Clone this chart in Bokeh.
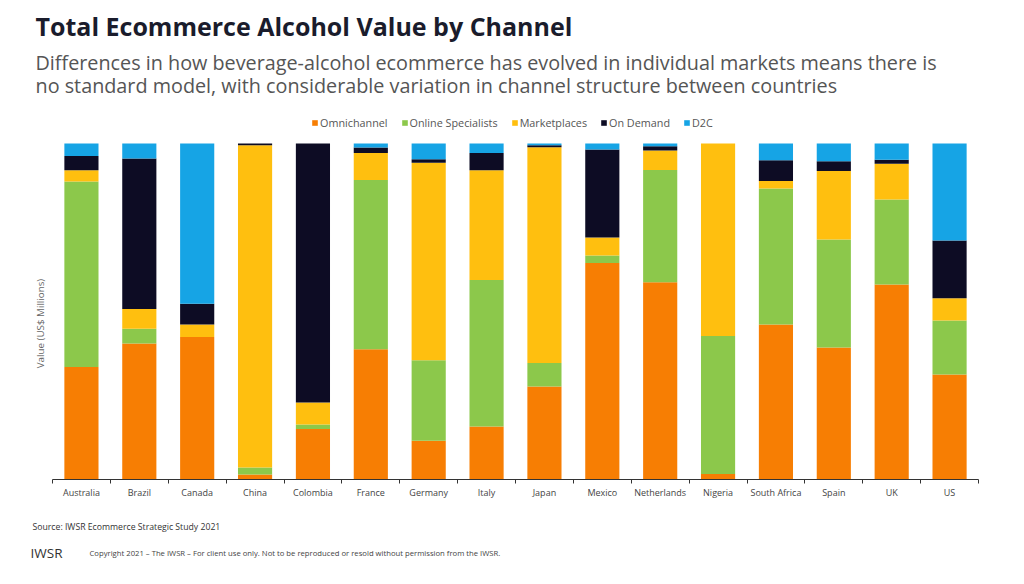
from bokeh.plotting import figure
from bokeh.layouts import column
from bokeh.models import Range1d, FixedTicker, Label, Legend, LegendItem
from bokeh.embed import file_html
from bokeh.resources import INLINE

countries = ["Australia", "Brazil", "Canada", "China", "Colombia", "France", "Germany", "Italy",
             "Japan", "Mexico", "Netherlands", "Nigeria", "South Africa", "Spain", "UK", "US"]
series = ["Omnichannel", "Online Specialists", "Marketplaces", "On Demand", "D2C"]
colors = ["#F77E03", "#8CC84B", "#FFBF0F", "#0D0C24", "#16A4E5"]

# channel shares (% of total ecommerce alcohol value)
omnichannel = [33.5, 40.5, 42.4, 1.5, 15.0, 38.8, 11.5, 15.8, 27.7, 64.5, 58.7, 1.6, 46.2, 39.3, 58.0, 31.3]
online_specialists = [55.3, 4.4, 0.0, 2.1, 1.4, 50.3, 24.0, 43.6, 7.0, 2.2, 33.4, 41.1, 40.5, 32.1, 25.3, 16.1]
marketplaces = [3.3, 5.9, 3.7, 95.9, 6.5, 8.1, 58.8, 32.7, 64.2, 5.4, 5.8, 57.3, 2.2, 20.4, 10.7, 6.6]
on_demand = [4.3, 44.8, 6.2, 0.5, 77.1, 1.6, 1.0, 5.2, 0.6, 26.2, 1.3, 0.0, 6.2, 2.9, 1.2, 17.2]
d2c = [3.7, 4.5, 47.7, 0.0, 0.0, 1.2, 4.7, 2.8, 0.5, 1.8, 0.8, 0.0, 5.0, 5.3, 4.8, 28.9]

raw = [omnichannel, online_specialists, marketplaces, on_demand, d2c]
totals = [sum(col) for col in zip(*raw)]
data = {"x": [i + 0.5 for i in range(len(countries))]}
for name, vals in zip(series, raw):
    data[name] = [v / t * 100 for v, t in zip(vals, totals)]

FONT = "Open Sans"
W = 1008
N = len(countries)

# screen geometry of the bar area
AX_L, AX_R = 52, 978          # x axis extent (px)
BAR_TOP, BAR_BOT = 143, 479   # 100 % and 0 % (px)
HEAD_H = 110
MAIN_H = 393
FOOT_H = 568 - HEAD_H - MAIN_H
PX_X = (AX_R - AX_L) / N
PX_Y = (BAR_BOT - BAR_TOP) / 100.0


def text_panel(height):
    f = figure(width=W, height=height, output_backend="svg", toolbar_location=None,
               x_range=Range1d(0, W), y_range=Range1d(height, 0), min_border=0)
    f.axis.visible = False
    f.grid.visible = False
    f.outline_line_color = None
    return f


# ---- header: title and subtitle
head = text_panel(HEAD_H)
head.add_layout(Label(x=35, y=25, text="Total Ecommerce Alcohol Value by Channel",
                      text_font=FONT, text_font_size="25px", text_font_style="bold",
                      text_color="#1A1C2C", text_baseline="middle"))
head.add_layout(Label(x=35, y=62,
                      text="Differences in how beverage-alcohol ecommerce has evolved in individual markets means there is",
                      text_font=FONT, text_font_size="19.8px", text_color="#555555", text_baseline="middle"))
head.add_layout(Label(x=35, y=85,
                      text="no standard model, with considerable variation in channel structure between countries",
                      text_font=FONT, text_font_size="19.8px", text_color="#555555", text_baseline="middle"))

# ---- main chart (frame spans the whole width; legend lives at the top of the frame)
y_top = (BAR_BOT - HEAD_H) / PX_Y
p = figure(width=W, height=MAIN_H, output_backend="svg", toolbar_location=None,
           x_range=Range1d(-AX_L / PX_X, N + (W - AX_R) / PX_X), y_range=Range1d(0, y_top),
           min_border_left=0, min_border_right=0, min_border_top=0,
           min_border_bottom=MAIN_H - (BAR_BOT - HEAD_H))
p.outline_line_color = None
p.xgrid.visible = False
p.ygrid.visible = False
p.yaxis.visible = False

rs = p.vbar_stack(series, x="x", width=0.59, source=data, color=colors, line_color=None)

ax = p.xaxis[0]
ax.bounds = (0, N)
ax.ticker = FixedTicker(ticks=data["x"], minor_ticks=list(range(0, N + 1)))
ax.major_label_overrides = {x: c for x, c in zip(data["x"], countries)}
ax.major_tick_out = 0
ax.major_tick_in = 0
ax.minor_tick_out = 4
ax.minor_tick_in = 0
ax.minor_tick_line_color = "#333333"
ax.axis_line_color = "#333333"
ax.major_label_standoff = 2
ax.major_label_text_font = FONT
ax.major_label_text_font_size = "9px"
ax.major_label_text_color = "#444444"

legend = Legend(items=[LegendItem(label=s, renderers=[r]) for s, r in zip(series, rs)],
                orientation="horizontal", location=(311, BAR_BOT - 130),
                label_text_font=FONT, label_text_font_size="10.8px", label_text_color="#555555",
                glyph_width=7, glyph_height=7, label_standoff=2, label_height=12, spacing=13,
                padding=0, margin=0, border_line_color=None, background_fill_alpha=0)
p.add_layout(legend, "center")

p.add_layout(Label(x=(40 - AX_L) / PX_X, y=(BAR_BOT - 323) / PX_Y, text="Value (US$ Millions)",
                   angle=1.5707963, text_font=FONT, text_font_size="9.8px", text_color="#666666",
                   text_align="center", text_baseline="middle"))

# ---- footer
foot = text_panel(FOOT_H)
f0 = HEAD_H + MAIN_H
foot.add_layout(Label(x=32, y=526 - f0, text="Source: IWSR Ecommerce Strategic Study 2021",
                      text_font=FONT, text_font_size="8.7px", text_color="#333333", text_baseline="middle"))
foot.add_layout(Label(x=30, y=552 - f0, text="IWSR",
                      text_font=FONT, text_font_size="13.5px", text_color="#333333", text_baseline="middle"))
foot.add_layout(Label(x=89, y=552 - f0,
                      text="Copyright 2021 \u2013 The IWSR \u2013 For client use only. Not to be reproduced or resold without permission from the IWSR.",
                      text_font=FONT, text_font_size="7.7px", text_color="#444444", text_baseline="middle"))

layout = column(head, p, foot, spacing=0)
open("out.html", "w").write(file_html(layout, INLINE))
